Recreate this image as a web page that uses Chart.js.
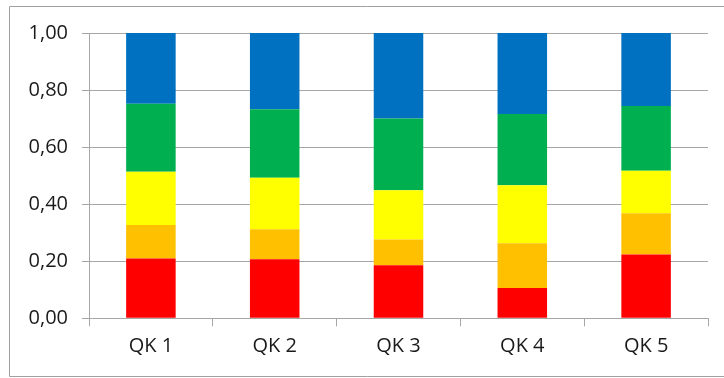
<!DOCTYPE html>
<html>
<head>
<meta charset="utf-8">
<script src="https://cdn.jsdelivr.net/npm/chart.js@4/dist/chart.umd.min.js"></script>
<style>
html,body{margin:0;padding:0;background:#fff;}
#wrap{position:absolute;left:0;top:0;width:724px;height:378px;}
</style>
</head>
<body>
<div id="wrap"><canvas id="c" width="724" height="378"></canvas></div>
<script>
const categories = ["QK 1", "QK 2", "QK 3", "QK 4", "QK 5"];
const redValues    = [0.210, 0.207, 0.186, 0.106, 0.224];
const orangeValues = [0.117, 0.105, 0.090, 0.157, 0.144];
const yellowValues = [0.187, 0.181, 0.173, 0.203, 0.149];
const greenValues  = [0.238, 0.240, 0.251, 0.250, 0.227];
const blueValues   = [0.248, 0.267, 0.300, 0.284, 0.256];
const yTicks = [0, 0.2, 0.4, 0.6, 0.8, 1.0];

const series = [
  {label: "1", data: redValues, color: "#FF0000"},
  {label: "2", data: orangeValues, color: "#FFC000"},
  {label: "3", data: yellowValues, color: "#FFFF00"},
  {label: "4", data: greenValues, color: "#00B050"},
  {label: "5", data: blueValues, color: "#0070C0"}
];

const borderPlugin = {
  id: "outerBorder",
  beforeDraw(chart) {
    const ctx = chart.ctx;
    ctx.save();
    ctx.fillStyle = "#fff";
    ctx.fillRect(0, 0, chart.width, chart.height);
    ctx.strokeStyle = "#A0A0A0";
    ctx.lineWidth = 1;
    ctx.beginPath();
    ctx.moveTo(chart.width + 2, 6.5);
    ctx.lineTo(9.5, 6.5);
    ctx.lineTo(9.5, 376.5);
    ctx.lineTo(chart.width + 2, 376.5);
    ctx.stroke();
    ctx.restore();
  }
};

const gridColor = "#A6A6A6";
new Chart(document.getElementById("c"), {
  type: "bar",
  data: {
    labels: categories,
    datasets: series.map(s => ({
      label: s.label,
      data: s.data,
      backgroundColor: s.color,
      borderWidth: 0,
      categoryPercentage: 1.0,
      barPercentage: 0.4
    }))
  },
  options: {
    responsive: false,
    animation: false,
    devicePixelRatio: 1,
    layout: {padding: {left: 10, right: 16, top: 33, bottom: 0}},
    plugins: {legend: {display: false}, tooltip: {enabled: false}},
    scales: {
      x: {
        stacked: true,
        offset: true,
        grid: {offset: true, drawOnChartArea: false, drawTicks: true, tickLength: 8, color: gridColor},
        border: {display: true, color: gridColor},
        ticks: {color: "#1a1a1a", font: {family: "Open Sans", size: 20}, padding: 8},
        afterFit(scale) { scale.height = 378 - 318.3; }
      },
      y: {
        stacked: true,
        min: 0,
        max: 1,
        afterBuildTicks(scale) { scale.ticks = yTicks.map(v => ({value: v})); },
        grid: {color: gridColor, tickLength: 7, drawTicks: true},
        border: {display: true, color: gridColor},
        ticks: {
          color: "#1a1a1a",
          font: {family: "Open Sans", size: 20},
          padding: 14,
          callback: v => Number(v).toFixed(2).replace(".", ",")
        },
        afterFit(scale) { scale.width = 79; }
      }
    }
  },
  plugins: [borderPlugin]
});
</script>
</body>
</html>
